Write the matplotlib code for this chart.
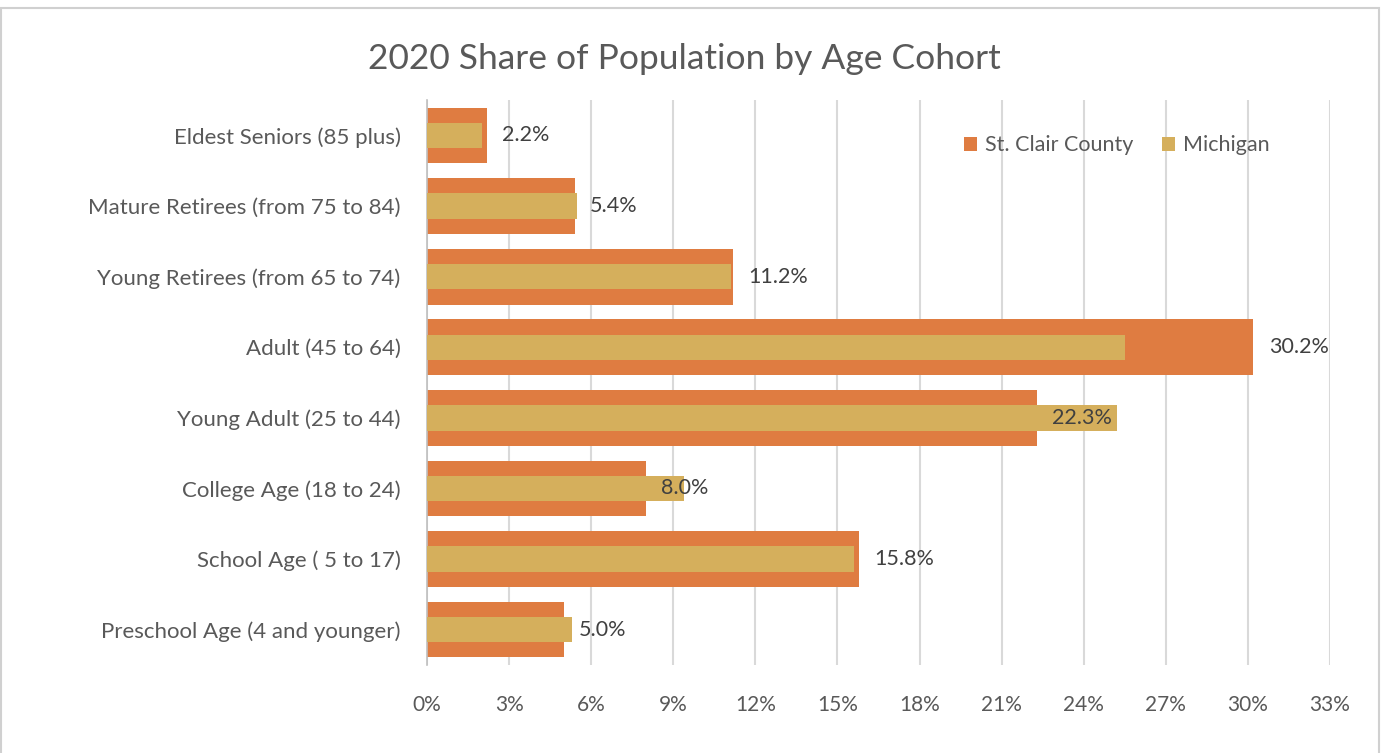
import matplotlib.pyplot as plt
from matplotlib.patches import Rectangle

plt.rcParams['font.family'] = ['Lato', 'DejaVu Sans']

# Age cohorts, bottom to top as drawn
cohorts = [
    'Preschool Age (4 and younger)',
    'School Age ( 5 to 17)',
    'College Age (18 to 24)',
    'Young Adult (25 to 44)',
    'Adult (45 to 64)',
    'Young Retirees (from 65 to 74)',
    'Mature Retirees (from 75 to 84)',
    'Eldest Seniors (85 plus)',
]
st_clair = [5.0, 15.8, 8.0, 22.3, 30.2, 11.2, 5.4, 2.2]
michigan = [5.3, 15.6, 9.4, 25.2, 25.5, 11.1, 5.5, 2.0]
x_ticks = list(range(0, 34, 3))

orange = '#DF7C41'
gold = '#D5AF5C'
grey_text = '#595959'

fig = plt.figure(figsize=(13.85, 7.53), dpi=100)
ax = fig.add_axes([0.3083, 0.117, 0.652, 0.750])

ypos = range(len(cohorts))
ax.barh(ypos, st_clair, height=0.79, color=orange, label='St. Clair County', zorder=2)
ax.barh(ypos, michigan, height=0.36, color=gold, label='Michigan', zorder=3)

for y, v in zip(ypos, st_clair):
    ax.annotate(f'{v:.1f}%', xy=(v, y), xytext=(11, 0), textcoords='offset points',
                ha='left', va='center', fontsize=15.5, color='#404040', zorder=4)

ax.set_xlim(0, 33)
ax.set_ylim(-0.5, 7.5)
ax.set_xticks(x_ticks)
ax.set_xticklabels([f'{t}%' for t in x_ticks])
ax.set_yticks(list(ypos))
ax.set_yticklabels(cohorts)
ax.tick_params(axis='both', length=0, labelsize=15, labelcolor=grey_text)
ax.tick_params(axis='x', pad=22)
ax.tick_params(axis='y', pad=19, labelsize=16)

ax.grid(axis='x', color='#D9D9D9', linewidth=1.5, zorder=0)
ax.set_axisbelow(True)
for side in ['top', 'right', 'bottom']:
    ax.spines[side].set_visible(False)
ax.spines['left'].set_color('#BFBFBF')
ax.spines['left'].set_linewidth(1.2)

ax.legend(loc='upper right', bbox_to_anchor=(0.955, 0.972), ncol=2, frameon=False,
          fontsize=15.5, labelcolor=grey_text, handlelength=0.6, handleheight=0.6,
          handletextpad=0.4, columnspacing=1.3)

fig.text(0.494, 0.921, '2020 Share of Population by Age Cohort', ha='center', va='center',
         fontsize=25.5, color=grey_text)

# light frame around the chart area
fig.patches.append(Rectangle((0.001, -0.01), 0.995, 0.999, transform=fig.transFigure,
                             fill=False, edgecolor='#D0D0D0', linewidth=1.5))

fig.savefig('out.png', dpi=100, facecolor='white')
